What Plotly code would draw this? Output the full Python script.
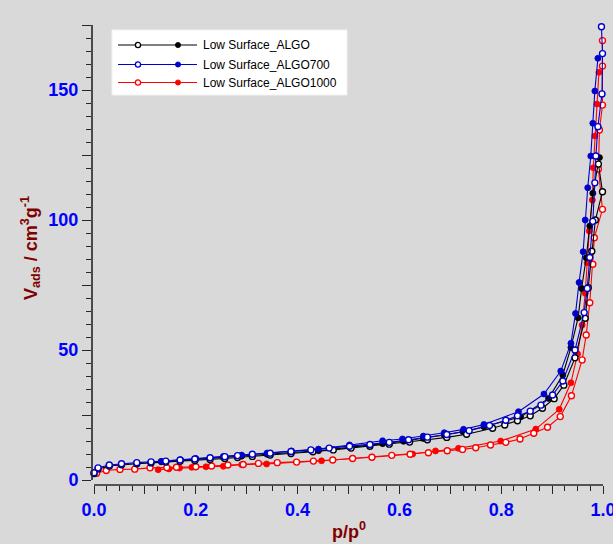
import plotly.graph_objects as go

# ---- Isotherm data: relative pressure p/p0 and adsorbed volume (cm3/g) ----
# Low Surface_ALGO
algo_open_x = [0.000, 0.008, 0.030, 0.054, 0.084, 0.112, 0.141, 0.169, 0.198, 0.228,
               0.257, 0.282, 0.311, 0.346, 0.387, 0.430, 0.470, 0.505, 0.542, 0.580,
               0.620, 0.655, 0.693, 0.732, 0.783, 0.807, 0.832, 0.857, 0.881, 0.904,
               0.923, 0.945, 0.965, 0.971, 0.978, 0.985, 0.999, 0.991]
algo_open_y = [2.5, 4.3, 5.4, 5.9, 6.3, 6.6, 6.9, 7.2, 7.5, 7.9,
               8.3, 8.7, 9.1, 9.6, 10.2, 10.9, 11.6, 12.3, 13.0, 13.8,
               14.6, 15.5, 16.4, 17.6, 19.9, 21.2, 22.8, 24.7, 27.6, 31.3,
               36.5, 47.0, 62.2, 74.0, 88.0, 100.0, 110.9, 121.5]
algo_fill_x = [0.993, 0.980, 0.974, 0.967, 0.958, 0.951, 0.937, 0.921, 0.893, 0.838,
               0.766, 0.725, 0.688, 0.647, 0.608, 0.567, 0.502, 0.441, 0.388, 0.340,
               0.290, 0.254, 0.200, 0.170, 0.132]
algo_fill_y = [124.0, 110.3, 97.7, 85.5, 73.7, 62.4, 51.0, 40.4, 31.4, 24.3,
               20.5, 18.6, 17.3, 16.0, 14.9, 14.0, 12.7, 11.3, 10.6, 9.9,
               9.2, 8.7, 8.0, 7.6, 7.0]

# Low Surface_ALGO700
algo700_open_x = [0.000, 0.008, 0.030, 0.054, 0.084, 0.112, 0.141, 0.169, 0.198, 0.228,
                  0.257, 0.282, 0.311, 0.346, 0.387, 0.426, 0.462, 0.502, 0.542, 0.580,
                  0.618, 0.655, 0.693, 0.737, 0.777, 0.809, 0.832, 0.857, 0.878, 0.901,
                  0.921, 0.945, 0.963, 0.969, 0.974, 0.980, 0.984, 0.986, 0.990, 0.998,
                  0.999, 0.997]
algo700_open_y = [2.8, 4.7, 5.8, 6.3, 6.7, 7.0, 7.3, 7.7, 8.1, 8.6,
                  9.0, 9.4, 9.9, 10.3, 11.0, 11.6, 12.3, 13.0, 13.7, 14.5,
                  15.5, 16.5, 17.5, 19.0, 21.0, 23.0, 24.7, 26.5, 28.8, 32.7,
                  38.1, 50.0, 64.4, 73.7, 85.6, 99.5, 114.3, 124.6, 135.9, 148.5,
                  164.0, 174.3]
algo700_fill_x = [0.990, 0.984, 0.980, 0.976, 0.970, 0.965, 0.961, 0.953, 0.946, 0.937,
                  0.917, 0.884, 0.834, 0.766, 0.726, 0.688, 0.647, 0.606, 0.567, 0.502,
                  0.441, 0.388, 0.340, 0.290, 0.254, 0.200, 0.170, 0.132]
algo700_fill_y = [162.2, 149.6, 137.2, 124.6, 112.4, 100.0, 87.8, 76.0, 64.1, 52.6,
                  41.9, 33.1, 26.3, 21.4, 19.5, 18.2, 16.9, 15.8, 15.1, 13.5,
                  11.9, 11.2, 10.4, 9.6, 9.1, 8.3, 7.8, 7.2]

# Low Surface_ALGO1000
algo1000_open_x = [0.005, 0.024, 0.051, 0.080, 0.110, 0.143, 0.162, 0.200, 0.231, 0.263,
                   0.293, 0.323, 0.360, 0.398, 0.431, 0.469, 0.508, 0.546, 0.585, 0.621,
                   0.657, 0.694, 0.724, 0.750, 0.779, 0.809, 0.837, 0.864, 0.891, 0.916,
                   0.938, 0.959, 0.967, 0.974, 0.980, 0.983, 0.999, 0.991, 0.993, 0.999,
                   0.999, 0.999]
algo1000_open_y = [2.6, 3.7, 4.1, 4.2, 4.7, 4.8, 4.9, 5.1, 5.4, 5.8,
                   6.0, 6.4, 6.7, 6.9, 7.3, 7.7, 8.3, 8.8, 9.5, 9.9,
                   10.5, 11.3, 11.8, 12.4, 13.5, 14.5, 15.8, 18.0, 20.3, 24.4,
                   32.4, 46.2, 55.8, 68.2, 83.0, 93.2, 104.1, 119.6, 134.6, 144.2,
                   159.2, 169.0]
algo1000_fill_x = [0.992, 0.988, 0.984, 0.981, 0.979, 0.973, 0.969, 0.965, 0.959, 0.950,
                   0.937, 0.914, 0.868, 0.799, 0.716, 0.671, 0.626, 0.546, 0.447, 0.339,
                   0.290, 0.254, 0.220, 0.192, 0.168, 0.147, 0.126]
algo1000_fill_y = [156.8, 144.6, 132.3, 120.1, 107.7, 95.8, 83.6, 71.8, 59.6, 48.5,
                   37.4, 27.2, 19.6, 15.0, 12.2, 11.2, 10.0, 8.8, 7.4, 6.2,
                   5.9, 5.3, 5.1, 4.9, 4.6, 4.3, 4.0]

series_names = ["Low Surface_ALGO", "Low Surface_ALGO700", "Low Surface_ALGO1000"]
series_colors = ["#000000", "#0000CC", "#FF0000"]

# labelled ticks
x_label_vals = [0.0, 0.2, 0.4, 0.6, 0.8, 1.0]
x_label_text = ["0.0", "0.2", "0.4", "0.6", "0.8", "1.0"]
y_label_vals = [0, 50, 100, 150]
y_label_text = ["0", "50", "100", "150"]
# unlabelled major ticks in between
x_mid_vals = [0.1, 0.3, 0.5, 0.7, 0.9]
y_mid_vals = [25, 75, 125, 175]

X_RANGE = [-0.004, 1.0]
Y_RANGE = [-1.9, 175]

BG = "#d9d9d9"
AXIS_COL = "#262626"
TICK_BLUE = "#0000FF"
TITLE_RED = "#800000"
FONT = "Arial, Liberation Sans, sans-serif"

fig = go.Figure()

groups = [
    (algo_open_x, algo_open_y, algo_fill_x, algo_fill_y),
    (algo700_open_x, algo700_open_y, algo700_fill_x, algo700_fill_y),
    (algo1000_open_x, algo1000_open_y, algo1000_fill_x, algo1000_fill_y),
]

# red set first so the black/blue curves sit on top
for idx in [2, 0, 1]:
    ox, oy, fx, fy = groups[idx]
    col = series_colors[idx]
    fig.add_trace(go.Scatter(
        x=fx, y=fy, mode="lines+markers", showlegend=False, cliponaxis=False,
        line=dict(color=col, width=1.1),
        marker=dict(symbol="circle", size=6, color=col, line=dict(color=col, width=0.8)),
    ))
    fig.add_trace(go.Scatter(
        x=ox, y=oy, mode="lines+markers", showlegend=False, cliponaxis=False,
        line=dict(color=col, width=1.1),
        marker=dict(symbol="circle", size=6, color="white", line=dict(color=col, width=1.4)),
    ))

# empty trace that carries the overlay axes used for the unlabelled major ticks
fig.add_trace(go.Scatter(x=[], y=[], xaxis="x2", yaxis="y2", showlegend=False,
                         hoverinfo="skip"))

# ---- plot area geometry (pixels) ----
W, H = 613, 544
L, R, T, B = 92, 10, 25, 59
pw, ph = W - L - R, H - T - B


def px(xp):
    return (xp - L) / pw


def py(yp):
    return (H - B - yp) / ph


shapes = []
annotations = []

# axis lines in the Origin style: they stop at the data origin
shapes.append(dict(type="line", xref="paper", yref="y", x0=0, x1=0, y0=0, y1=175,
                   line=dict(color=AXIS_COL, width=1.6), layer="above"))
shapes.append(dict(type="line", xref="x", yref="paper", x0=0, x1=1.0, y0=0, y1=0,
                   line=dict(color=AXIS_COL, width=1.6), layer="above"))

# legend box with line + open/filled symbols
shapes.append(dict(type="rect", xref="paper", yref="paper",
                   x0=px(112), x1=px(347), y0=py(95), y1=py(30),
                   fillcolor="white", line=dict(color="#f2f2f2", width=1), layer="above"))
row_y = [45, 64.5, 82.5]
for i, name in enumerate(series_names):
    col = series_colors[i]
    yy = py(row_y[i])
    shapes.append(dict(type="line", xref="paper", yref="paper", x0=px(118), x1=px(197),
                       y0=yy, y1=yy, line=dict(color=col, width=1.1), layer="above"))
    for cx, filled in [(138, False), (178, True)]:
        shapes.append(dict(type="circle", xref="paper", yref="paper",
                           xsizemode="pixel", ysizemode="pixel",
                           xanchor=px(cx), yanchor=yy, x0=-2.6, x1=2.6, y0=-2.6, y1=2.6,
                           fillcolor=col if filled else "white",
                           line=dict(color=col, width=1.3 if not filled else 0.8),
                           layer="above"))
    annotations.append(dict(xref="paper", yref="paper", x=px(201), y=yy, text=name,
                            showarrow=False, xanchor="left", yanchor="middle",
                            font=dict(family=FONT, size=12, color="black")))

# axis titles
annotations.append(dict(xref="paper", yref="paper", x=px(30), y=py(248),
                        text="<b>V<sub>ads</sub> / cm<sup>3</sup>g<sup>-1</sup></b>",
                        textangle=-90, showarrow=False, xanchor="center", yanchor="middle",
                        font=dict(family=FONT, size=18, color=TITLE_RED)))
annotations.append(dict(xref="paper", yref="paper", x=px(349), y=py(530),
                        text="<b>p/p<sup>0</sup></b>",
                        showarrow=False, xanchor="center", yanchor="middle",
                        font=dict(family=FONT, size=18, color=TITLE_RED)))

tickfont = dict(family=FONT, size=18, color=TICK_BLUE, weight="bold")

fig.update_layout(
    width=W, height=H,
    margin=dict(l=L, r=R, t=T, b=B, pad=0, autoexpand=False),
    paper_bgcolor=BG, plot_bgcolor=BG,
    showlegend=False,
    shapes=shapes,
    annotations=annotations,
    xaxis=dict(
        range=X_RANGE, showgrid=False, zeroline=False, showline=False, automargin=False,
        tickmode="array", tickvals=x_label_vals, ticktext=x_label_text,
        ticks="outside", ticklen=8, tickwidth=1.4, tickcolor=AXIS_COL,
        tickfont=tickfont, ticklabeloverflow="allow",
        minor=dict(dtick=0.025, tick0=0, ticks="outside", ticklen=4.5, tickwidth=1.2,
                   tickcolor=AXIS_COL, showgrid=False),
    ),
    yaxis=dict(
        range=Y_RANGE, showgrid=False, zeroline=False, showline=False, automargin=False,
        tickmode="array", tickvals=y_label_vals, ticktext=y_label_text,
        ticks="outside", ticklen=9, tickwidth=1.4, tickcolor=AXIS_COL,
        tickfont=tickfont, ticklabeloverflow="allow",
        minor=dict(dtick=5, tick0=0, ticks="outside", ticklen=5.5, tickwidth=1.2,
                   tickcolor=AXIS_COL, showgrid=False),
    ),
    xaxis2=dict(
        range=X_RANGE, overlaying="x", anchor="y2", side="bottom", automargin=False,
        showgrid=False, zeroline=False, showline=False, showticklabels=False,
        tickmode="array", tickvals=x_mid_vals,
        ticks="outside", ticklen=8, tickwidth=1.4, tickcolor=AXIS_COL,
    ),
    yaxis2=dict(
        range=Y_RANGE, overlaying="y", anchor="x2", side="left", automargin=False,
        showgrid=False, zeroline=False, showline=False, showticklabels=False,
        tickmode="array", tickvals=y_mid_vals,
        ticks="outside", ticklen=9, tickwidth=1.4, tickcolor=AXIS_COL,
    ),
)

fig.write_html("out.html")
